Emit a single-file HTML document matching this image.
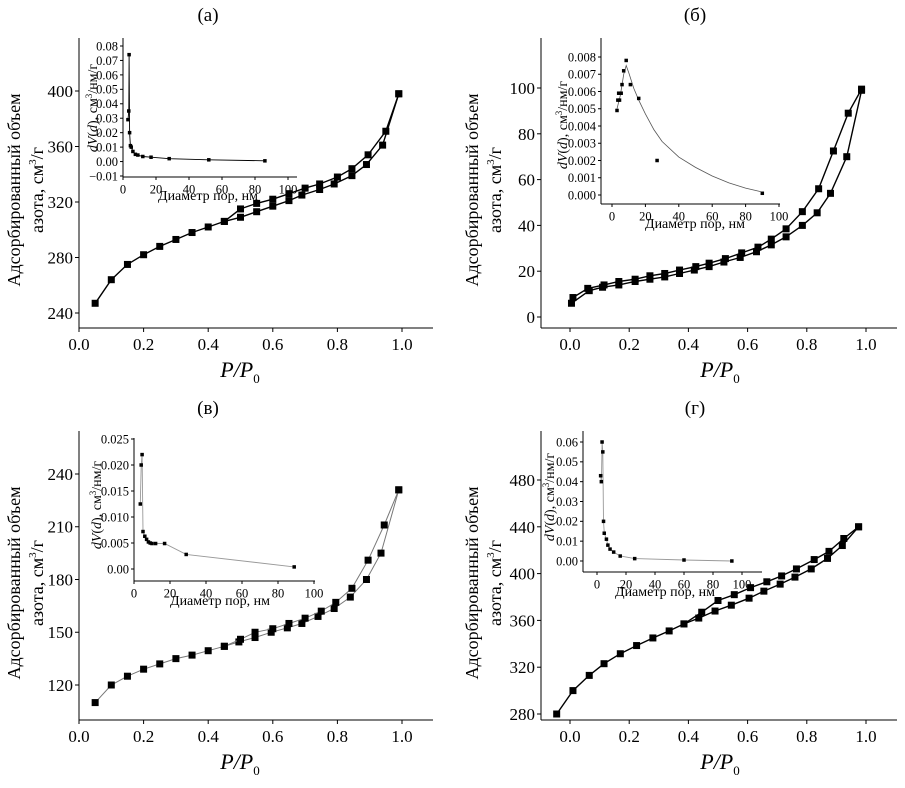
<!DOCTYPE html>
<html><head><meta charset="utf-8">
<style>
body{margin:0;background:#fff;}
svg, svg text{font-family:"Liberation Serif","DejaVu Serif","Times New Roman",serif;}
</style></head>
<body>
<svg id="fig" width="905" height="783" viewBox="0 0 905 783" xmlns="http://www.w3.org/2000/svg" font-family="Liberation Serif, DejaVu Serif, serif"></svg>
<script>
// ---------- Panel (a) data ----------
const aAdsX=[0.05,0.1,0.15,0.2,0.25,0.3,0.35,0.4,0.45,0.5,0.55,0.6,0.65,0.69,0.745,0.79,0.845,0.89,0.94,0.99];
const aAdsY=[247,264,275,282,288,293,298,302,306,309,313,317,321,325,329,333,339,347,361,398];
const aDesX=[0.99,0.95,0.895,0.845,0.8,0.745,0.7,0.65,0.6,0.55,0.5,0.45];
const aDesY=[398,371,354,344,338,333,330,326,322,319,315,306];
const aInsX=[3,3.5,3.7,4,4.5,5,6,7.5,9,12,17,28,52,86];
const aInsY=[0.029,0.035,0.074,0.02,0.011,0.010,0.007,0.005,0.0045,0.0035,0.003,0.002,0.0012,0.0005];
const aXTicks=[0,0.2,0.4,0.6,0.8,1.0];
const aYTicks=[240,280,320,360,400];
const aInsXTicks=[0,20,40,60,80,100];
const aInsYTicks=[-0.01,0,0.01,0.02,0.03,0.04,0.05,0.06,0.07,0.08];
// ---------- Panel (б) data ----------
const bAdsX=[0.005,0.065,0.11,0.165,0.22,0.27,0.32,0.37,0.42,0.47,0.52,0.575,0.63,0.68,0.73,0.785,0.835,0.88,0.935,0.985];
const bAdsY=[6,11.5,13,14,15.5,16.5,17.5,19,20.5,22,24,26,28.5,31.5,35,40,45.5,54,70,99];
const bDesX=[0.985,0.94,0.89,0.84,0.785,0.73,0.68,0.635,0.58,0.525,0.47,0.425,0.37,0.32,0.27,0.22,0.165,0.115,0.06,0.01];
const bDesY=[99.5,89,72.5,56,46,38.5,34,30.5,28,25.5,23.5,22,20.5,19,18,16.5,15.5,14,12.5,8.5];
const bInsX=[3,3.5,4,4.5,5.5,6,7,8.5,11,16,27,90];
const bInsY=[0.0049,0.0055,0.0059,0.0055,0.0059,0.0064,0.0072,0.0078,0.0064,0.0056,0.002,0.0001];
const bFitX=[3,5,7,8.5,10,13,16,20,25,30,40,50,60,70,80,89];
const bFitY=[0.005,0.0058,0.007,0.0075,0.0071,0.0062,0.0055,0.0047,0.0038,0.0031,0.0022,0.0016,0.0011,0.0007,0.0004,0.0002];
const bXTicks=[0,0.2,0.4,0.6,0.8,1.0];
const bYTicks=[0,20,40,60,80,100];
const bInsXTicks=[0,20,40,60,80,100];
const bInsYTicks=[0,0.001,0.002,0.003,0.004,0.005,0.006,0.007,0.008];
// ---------- Panel (в) data ----------
const cAdsX=[0.05,0.1,0.15,0.2,0.25,0.3,0.35,0.4,0.45,0.495,0.545,0.595,0.645,0.69,0.74,0.79,0.84,0.89,0.935,0.99];
const cAdsY=[110,120,125,129,132,135,137,139.5,142,144.5,147,150,152.5,155,159,163.5,170,180,195,231];
const cDesX=[0.99,0.945,0.895,0.845,0.795,0.75,0.7,0.65,0.6,0.545,0.5,0.45];
const cDesY=[231,211,191,175,167,162,158,155,152,150,146,142];
const cInsX=[3.5,4,4.5,5,6,7,8,9,10,12,17,29,89];
const cInsY=[0.0125,0.02,0.022,0.0072,0.0063,0.0057,0.0052,0.005,0.0049,0.0049,0.0049,0.0028,0.0004];
const cXTicks=[0,0.2,0.4,0.6,0.8,1.0];
const cYTicks=[120,150,180,210,240];
const cInsXTicks=[0,20,40,60,80,100];
const cInsYTicks=[0,0.005,0.01,0.015,0.02,0.025];
const cInsYLabels=["0.00","0.005","0.010","0.015","0.020","0.025"];
// ---------- Panel (г) data ----------
const dAdsX=[-0.045,0.01,0.065,0.115,0.17,0.225,0.28,0.335,0.385,0.435,0.49,0.545,0.605,0.655,0.71,0.76,0.815,0.87,0.92,0.975];
const dAdsY=[280,300,313,323,331.5,338.5,345,351,357,362,368,373,379,385,391,397,404,413,424,440];
const dDesX=[0.975,0.925,0.875,0.825,0.765,0.715,0.665,0.61,0.555,0.5,0.445,0.385];
const dDesY=[440,430,419,412,404,398,393,388,382,377,367,357];
const dInsX=[2.5,3,3.5,4,4.5,5,6.5,7.5,9,11.5,16,26,60,93];
const dInsY=[0.043,0.04,0.06,0.055,0.02,0.014,0.011,0.008,0.006,0.0045,0.0025,0.0012,0.0005,0.0];
const dXTicks=[0,0.2,0.4,0.6,0.8,1.0];
const dYTicks=[280,320,360,400,440,480];
const dInsXTicks=[0,20,40,60,80,100];
const dInsYTicks=[0,0.01,0.02,0.03,0.04,0.05,0.06];

const NS="http://www.w3.org/2000/svg";
const svg=document.getElementById('fig');
const FF='"Liberation Serif","DejaVu Serif",serif';
function mk(tag,attrs,parent,text){
  const e=document.createElementNS(NS,tag);
  for(const k in attrs) e.setAttribute(k,attrs[k]);
  if(tag==='text') e.style.fontFamily=FF;
  if(text!==undefined) e.textContent=text;
  (parent||svg).appendChild(e); return e;
}
function lin(d0,d1,p0,p1){return v=>p0+(v-d0)*(p1-p0)/(d1-d0);}

function axes(g,o){
  const ax=mk('line',{x1:o.left,y1:o.top,x2:o.left,y2:o.bottom,stroke:'#000','stroke-width':1},g);
  
  
  const bx=mk('line',{x1:o.left,y1:o.bottom,x2:o.right,y2:o.bottom,stroke:'#000','stroke-width':1},g);
  
  
  o.xt.forEach((v,i)=>{
    const x=o.sx(v);
    mk('line',{x1:x,y1:o.bottom,x2:x,y2:o.bottom+o.tl,stroke:'#000','stroke-width':1},g);
    const t=mk('text',{x:x,y:o.bottom+o.fs+o.tl+1,'font-size':o.fs,'text-anchor':'middle'},g,o.xl?o.xl[i]:v.toFixed(o.xdec));
    
    
  });
  o.yt.forEach((v,i)=>{
    const y=o.sy(v);
    mk('line',{x1:o.left-o.tl,y1:y,x2:o.left,y2:y,stroke:'#000','stroke-width':1},g);
    let s=o.yl?o.yl[i]:v.toFixed(o.ydec);
    if(v<0) s='\u2212'+Math.abs(v).toFixed(o.ydec);
    const t=mk('text',{x:o.left-o.tl-2,y:y+o.fs*0.35,'font-size':o.fs,'text-anchor':'end'},g,s);
    
    
  });
}
function series(g,xs,ys,sx,sy,col,lw,ms,name){
  const pts=xs.map((x,i)=>sx(x).toFixed(1)+','+sy(ys[i]).toFixed(1)).join(' ');
  const pl=mk('polyline',{points:pts,fill:'none',stroke:col,'stroke-width':lw},g);
  
  
  if(ms>0) xs.forEach((x,i)=>{
    const r=mk('rect',{x:sx(x)-ms/2,y:sy(ys[i])-ms/2,width:ms,height:ms,fill:'#000'},g);
    
    
  });
}
function markers(g,xs,ys,sx,sy,ms,name){
  xs.forEach((x,i)=>{
    const r=mk('rect',{x:sx(x)-ms/2,y:sy(ys[i])-ms/2,width:ms,height:ms,fill:'#000'},g);
    
    
  });
}
function panel(P){
  const g=mk('g',{},svg);
  
  
  const t=mk('text',{x:P.titleX,y:P.titleY,'font-size':19,'text-anchor':'middle'},g,P.title);
  
  
  const sx=lin(P.xd[0],P.xd[1],P.xp[0],P.xp[1]);
  const sy=lin(P.yd[0],P.yd[1],P.yp[0],P.yp[1]);
  axes(g,{pref:'main-',left:P.left,bottom:P.bottom,top:P.top,right:P.right,sx,sy,xt:P.xt,yt:P.yt,xdec:1,ydec:0,fs:17,tl:4});
  series(g,P.adsX,P.adsY,sx,sy,P.col,P.lw,7,'adsorption');
  series(g,P.desX,P.desY,sx,sy,P.col,P.lw,7,'desorption');
  const yt=mk('text',{transform:`translate(${P.ytx},${P.yty}) rotate(-90)`,'font-size':18,'text-anchor':'middle'},g);
  
  
  mk('tspan',{x:0,y:0},yt,'Адсорбированный объем');
  mk('tspan',{x:0,y:23},yt,'азота, см');
  mk('tspan',{'font-size':11,dy:-7},yt,'3');
  mk('tspan',{dy:7},yt,'/г');
  const xt=mk('text',{x:P.xtx,y:P.xty,'font-size':22,'text-anchor':'middle','font-style':'italic'},g);
  
  
  mk('tspan',{},xt,'P/P');
  mk('tspan',{'font-size':13,dy:6,'font-style':'normal'},xt,'0');
  const I=P.ins;
  const ig=mk('g',{},g);
  
  
  const isx=lin(I.xd[0],I.xd[1],I.xp[0],I.xp[1]);
  const isy=lin(I.yd[0],I.yd[1],I.yp[0],I.yp[1]);
  axes(ig,{pref:'inset-',left:I.left,bottom:I.bottom,top:I.top,right:I.right,sx:isx,sy:isy,xt:I.xt,yt:I.yt,xdec:0,ydec:I.ydec,fs:I.fs||12.5,tl:3,yl:I.yl});
  if(I.fitX){
    series(ig,I.fitX,I.fitY,isx,isy,'#555',0.8,0,'inset-fit');
    markers(ig,I.x,I.y,isx,isy,3.5,'inset');
  } else series(ig,I.x,I.y,isx,isy,I.col,0.9,3.5,'inset');
  const il=mk('text',{transform:`translate(${I.ytx},${I.yty}) rotate(-90)`,'font-size':14,'text-anchor':'middle'},ig);
  
  
  mk('tspan',{'font-style':'italic'},il,'dV');
  mk('tspan',{},il,'(');
  mk('tspan',{'font-style':'italic'},il,'d');
  mk('tspan',{},il,'), см');
  mk('tspan',{'font-size':9,dy:-5},il,'3');
  mk('tspan',{dy:5},il,'/нм/г');
  const ixl=mk('text',{x:I.xtx,y:I.xty,'font-size':14,'text-anchor':'middle'},ig,'Диаметр пор, нм');
  
  
}

panel({id:'a',title:'(a)',titleX:208,titleY:21,left:79,right:433,top:38,bottom:328,
  xd:[0,1],xp:[79,402],yd:[240,400],yp:[313,91],xt:aXTicks,yt:aYTicks,
  adsX:aAdsX,adsY:aAdsY,desX:aDesX,desY:aDesY,col:'#000',lw:1.4,
  ytx:20,yty:190,xtx:240,xty:377,
  ins:{left:123,right:297,top:38,bottom:177,xd:[0,100],xp:[123,288],yd:[0.08,-0.01],yp:[46,176],
    xt:aInsXTicks,yt:aInsYTicks,ydec:2,x:aInsX,y:aInsY,col:'#000',ytx:97,yty:108,xtx:208,xty:200}});
panel({id:'b',title:'(б)',titleX:695,titleY:21,left:541,right:897,top:38,bottom:328,
  xd:[0,1],xp:[570,866],yd:[0,100],yp:[317,88],xt:bXTicks,yt:bYTicks,
  adsX:bAdsX,adsY:bAdsY,desX:bDesX,desY:bDesY,col:'#000',lw:1.4,
  ytx:478,yty:190,xtx:720,xty:377,
  ins:{left:601,right:780,top:38,bottom:204,xd:[0,100],xp:[612,779],yd:[0.008,0],yp:[57,195],
    xt:bInsXTicks,yt:bInsYTicks,ydec:3,x:bInsX,y:bInsY,fitX:bFitX,fitY:bFitY,ytx:567,yty:125,xtx:695,xty:228}});
panel({id:'c',title:'(в)',titleX:208,titleY:414,left:79,right:433,top:431,bottom:720,
  xd:[0,1],xp:[79,402],yd:[120,240],yp:[685,474],xt:cXTicks,yt:cYTicks,
  adsX:cAdsX,adsY:cAdsY,desX:cDesX,desY:cDesY,col:'#777',lw:1,
  ytx:20,yty:583,xtx:240,xty:769,
  ins:{left:134,right:315,top:438,bottom:581,xd:[0,100],xp:[134,314],yd:[0.025,0],yp:[439,569],
    xt:cInsXTicks,yt:cInsYTicks,ydec:3,yl:cInsYLabels,x:cInsX,y:cInsY,col:'#999',ytx:101,yty:505,xtx:220,xty:605}});
panel({id:'d',title:'(г)',titleX:695,titleY:414,left:541,right:897,top:431,bottom:720,
  xd:[0,1],xp:[570,866],yd:[280,480],yp:[714,480],xt:dXTicks,yt:dYTicks,
  adsX:dAdsX,adsY:dAdsY,desX:dDesX,desY:dDesY,col:'#000',lw:1.4,
  ytx:478,yty:583,xtx:720,xty:769,
  ins:{left:583,right:762,top:431,bottom:572,xd:[0,100],xp:[597,742],yd:[0.06,0],yp:[442,561],
    xt:dInsXTicks,yt:dInsYTicks,ydec:2,x:dInsX,y:dInsY,col:'#999',ytx:554,yty:497,xtx:665,xty:596}});
</script>
</body></html>
